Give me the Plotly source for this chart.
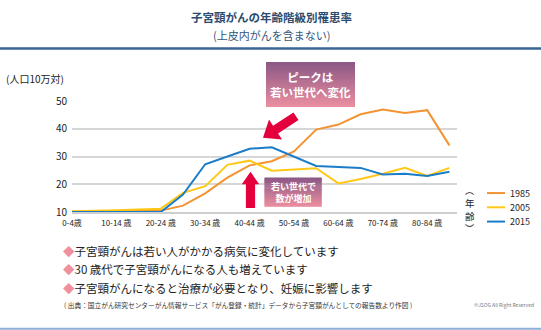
import plotly.graph_objects as go

# ---------------- data ----------------
categories = ["0-4歳", "5-9歳", "10-14歳", "15-19歳", "20-24歳", "25-29歳", "30-34歳",
              "35-39歳", "40-44歳", "45-49歳", "50-54歳", "55-59歳", "60-64歳",
              "65-69歳", "70-74歳", "75-79歳", "80-84歳", "85歳以上"]
tick_labels = ["0-4歳", "10-14 歳", "20-24 歳", "30-34 歳", "40-44 歳",
               "50-54 歳", "60-64 歳", "70-74 歳", "80-84 歳"]
years = ["1985", "2005", "2015"]
rate_1985 = [10.2, 10.2, 10.3, 10.4, 10.5, 12.3, 16.7, 22.4, 26.8, 28.3, 31.8, 39.7,
             41.5, 45.2, 46.9, 45.7, 46.7, 34.0]
rate_2005 = [10.3, 10.4, 10.6, 10.9, 11.2, 16.9, 19.3, 27.0, 28.5, 24.9, 25.4, 25.8,
             20.3, 21.9, 23.8, 25.9, 23.0, 25.9]
rate_2015 = [10.0, 10.0, 10.0, 10.0, 10.0, 16.3, 27.2, 30.0, 32.8, 33.3, 30.0, 26.6,
             26.2, 25.9, 23.5, 23.8, 23.0, 24.5]
y_ticks = [10, 20, 30, 40, 50]
colors = ["#F29432", "#FFC815", "#1B7DC8"]

# ---------------- geometry (pixels) ----------------
W, H = 541, 330
L, R = 72, 457
T, B = 100.7, 212.0


def px(x):
    return (x - L) / (R - L)


def py(y):
    return (B - y) / (B - T)


FONT = "Noto Sans CJK JP"

fig = go.Figure()
for name, vals, col in zip(years, [rate_1985, rate_2005, rate_2015], colors):
    fig.add_trace(go.Scatter(x=categories, y=vals, mode="lines", name=name,
                             line=dict(color=col, width=2), showlegend=False,
                             hoverinfo="skip"))

shapes = []
annotations = []

# top and bottom decorative lines
shapes.append(dict(type="line", xref="paper", yref="paper", x0=px(0), x1=px(W),
                   y0=py(48), y1=py(48), line=dict(color="#3A6593", width=2.5)))
shapes.append(dict(type="line", xref="paper", yref="paper", x0=px(0), x1=px(W),
                   y0=py(329), y1=py(329), line=dict(color="#8EAED6", width=2)))


def gradient_box(x0, y0, x1, y1, c_top=(140, 88, 133), c_bot=(234, 142, 160), n=30):
    h = (y1 - y0) / n
    for i in range(n):
        t = i / (n - 1)
        c = tuple(int(round(a + (b - a) * t)) for a, b in zip(c_top, c_bot))
        ya = y0 + i * h
        yb = min(y1, ya + h + 0.6)
        shapes.append(dict(type="rect", xref="paper", yref="paper",
                           x0=px(x0), x1=px(x1), y0=py(yb), y1=py(ya),
                           fillcolor="rgb(%d,%d,%d)" % c, line=dict(width=0),
                           layer="above"))


def arrow(tail, tip, shaft_hw, head_hw, head_len, color="#E4003D"):
    tx, ty = tail
    hx, hy = tip
    dx, dy = hx - tx, hy - ty
    ln = (dx * dx + dy * dy) ** 0.5
    ux, uy = dx / ln, dy / ln
    nx, ny = -uy, ux
    bx, by = hx - ux * head_len, hy - uy * head_len
    pts = [
        (tx + nx * shaft_hw, ty + ny * shaft_hw),
        (bx + nx * shaft_hw, by + ny * shaft_hw),
        (bx + nx * head_hw, by + ny * head_hw),
        (hx, hy),
        (bx - nx * head_hw, by - ny * head_hw),
        (bx - nx * shaft_hw, by - ny * shaft_hw),
        (tx - nx * shaft_hw, ty - ny * shaft_hw),
    ]
    path = "M " + " L ".join("%.5f,%.5f" % (px(x), py(y)) for x, y in pts) + " Z"
    shapes.append(dict(type="path", xref="paper", yref="paper", path=path,
                       fillcolor=color, line=dict(width=0), layer="above"))


gradient_box(266, 61.7, 355, 106.7)
gradient_box(264.5, 177.3, 321.7, 206.7)
arrow((296, 116), (263, 137.5), 4.6, 12, 15)
arrow((250.5, 208), (250.5, 171.7), 4.6, 8.7, 12.5)


def text(x, y, s, size, color="#222", bold=False, xanchor="left", align="left", pad=1):
    annotations.append(dict(x=px(x), y=py(y), xref="paper", yref="paper", text=s,
                            showarrow=False, xanchor=xanchor, yanchor="middle",
                            align=align, borderpad=pad,
                            font=dict(family=FONT, size=size, color=color,
                                      weight="bold" if bold else "normal")))


# titles
text(271, 16, "子宮頸がんの年齢階級別罹患率", 11.5, "#2B4C6F", True, "center", "center")
text(271, 35, "(上皮内がんを含まない)", 11, "#34567A", False, "center", "center")
text(4, 78, "(人口10万対)", 10, "#222")

# box texts
text(310.5, 84.2, "ピークは<br>若い世代へ変化", 11.5, "white", True, "center", "center")
text(293, 192, "若い世代で<br>数が増加", 9, "white", True, "center", "center")

# legend
for i, (name, col) in enumerate(zip(years, colors)):
    yy = 193 + i * 14.3
    shapes.append(dict(type="line", xref="paper", yref="paper", x0=px(487), x1=px(505),
                       y0=py(yy), y1=py(yy), line=dict(color=col, width=2)))
    text(508, yy, name, 9, "#222")

# vertical axis title (年齢)
text(470, 190.0, "︵", 9, "#222", False, "center", "center", 0)
text(470, 202.8, "年", 9.5, "#222", False, "center", "center", 0)
text(470, 215.6, "齢", 9.5, "#222", False, "center", "center", 0)
text(470, 228.5, "︶", 9, "#222", False, "center", "center", 0)

# bullet notes
diamond = "<span style='color:#F0909F'>◆</span>"
text(61, 250.7, diamond + "子宮頸がんは若い人がかかる病気に変化しています", 11.5)
text(61, 269.3, diamond + "30 歳代で子宮頸がんになる人も増えています", 11.5)
text(61, 287.8, diamond + "子宮頸がんになると治療が必要となり、妊娠に影響します", 11.5)
text(62, 305, "( 出典：国立がん研究センターがん情報サービス「がん登録・統計」データから子宮頸がんとしての報告数より作図 )",
     6.7, "#333")
text(536, 305, "©JSOG All Right Reserved", 5, "#777", False, "right", "right")

fig.update_layout(
    width=W, height=H,
    margin=dict(l=L, r=W - R, t=T, b=H - B, pad=0),
    paper_bgcolor="white", plot_bgcolor="white",
    font=dict(family=FONT, color="#222"),
    shapes=shapes, annotations=annotations,
    xaxis=dict(type="category", categoryorder="array", categoryarray=categories,
               range=[0, (R - L) / 22.2], tickmode="array",
               tickvals=categories[::2], ticktext=tick_labels,
               tickfont=dict(size=8, color="#222"), showgrid=False,
               showline=True, linecolor="#CFCFCF", linewidth=1.5, ticks="",
               ticklabelstandoff=3, fixedrange=True),
    yaxis=dict(range=[10, 50], tickvals=y_ticks, showgrid=True, gridcolor="#D6D6D6",
               gridwidth=1.5, zeroline=False, tickfont=dict(size=10, color="#222"),
               ticks="", ticklabelstandoff=4, fixedrange=True),
)

fig.write_html("out.html")
